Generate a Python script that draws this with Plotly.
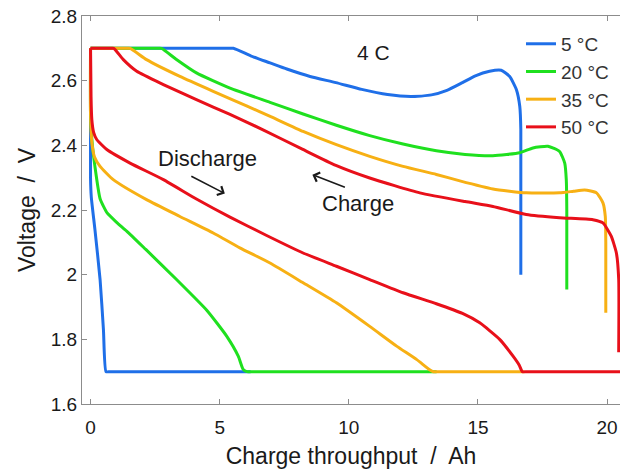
import plotly.graph_objects as go

# ---------------- data ----------------
temps = ["5 °C", "20 °C", "35 °C", "50 °C"]
colors = ["#1f6fe8", "#1fe01f", "#f7b014", "#e8101a"]

# discharge curves (lower branch)
dis5_x = [0, 0, 0.03, 0.17, 0.37, 0.5, 0.6, 0.75, 3.0, 6.2]
dis5_v = [2.70, 2.30, 2.24, 2.14, 1.985, 1.83, 1.70, 1.70, 1.70, 1.70]
dis20_x = [0, 0, 0.05, 0.17, 0.37, 0.65, 1.01, 1.4, 2.14, 3.33, 4.5, 5.27, 5.72, 5.91, 6.05, 6.25, 9.0, 13.4]
dis20_v = [2.70, 2.50, 2.42, 2.335, 2.235, 2.19, 2.162, 2.135, 2.078, 1.985, 1.89, 1.81, 1.748, 1.707, 1.70, 1.70, 1.70, 1.70]
dis35_x = [0, 0, 0.05, 0.15, 0.37, 0.88, 2.17, 3.46, 4.75, 5.78, 6.95, 8.23, 9.52, 10.81, 11.85, 12.62, 13.13, 13.28, 13.45, 15.0, 16.8]
dis35_v = [2.70, 2.50, 2.41, 2.365, 2.335, 2.294, 2.232, 2.18, 2.129, 2.083, 2.036, 1.975, 1.913, 1.84, 1.779, 1.738, 1.706, 1.70, 1.70, 1.70, 1.70]
dis50_x = [0, 0.02, 0.05, 0.12, 0.24, 0.63, 1.53, 2.82, 4.1, 5.4, 6.8, 8.23, 9.52, 10.81, 12.1, 13.39, 14.4, 15.07, 15.84, 16.36, 16.6, 16.72, 16.9, 18.5, 20.6]
dis50_v = [2.70, 2.55, 2.48, 2.44, 2.418, 2.387, 2.345, 2.294, 2.234, 2.178, 2.122, 2.067, 2.026, 1.985, 1.944, 1.91, 1.88, 1.851, 1.80, 1.748, 1.72, 1.70, 1.70, 1.70, 1.70]

# charge curves (upper branch)
chg5_x = [0, 0.3, 5.3, 5.53, 6.2, 6.95, 7.6, 8.5, 9.5, 10.5, 11.5, 12.4, 13.2, 13.8, 14.4, 14.9, 15.45, 15.9, 16.23, 16.49, 16.62, 16.66, 16.66]
chg5_v = [2.70, 2.70, 2.70, 2.70, 2.677, 2.655, 2.636, 2.613, 2.594, 2.573, 2.557, 2.551, 2.556, 2.57, 2.594, 2.615, 2.629, 2.632, 2.613, 2.572, 2.52, 2.45, 2.0]
chg20_x = [0, 0.3, 2.55, 2.75, 3.3, 4.1, 5.4, 6.95, 8.23, 9.52, 10.81, 12.1, 13.39, 14.5, 15.58, 16.62, 17.13, 17.71, 18.16, 18.36, 18.42, 18.44, 18.44]
chg20_v = [2.70, 2.70, 2.70, 2.70, 2.667, 2.624, 2.577, 2.533, 2.497, 2.462, 2.43, 2.404, 2.383, 2.372, 2.368, 2.377, 2.392, 2.397, 2.381, 2.345, 2.294, 2.2, 1.954]
chg35_x = [0, 0.3, 1.35, 1.53, 2.17, 3.46, 4.75, 6.04, 7.0, 8.23, 9.52, 10.81, 12.1, 13.39, 14.3, 15.58, 16.87, 18.16, 18.7, 19.13, 19.59, 19.84, 19.93, 19.95, 19.95]
chg35_v = [2.70, 2.70, 2.70, 2.70, 2.665, 2.613, 2.567, 2.522, 2.488, 2.443, 2.402, 2.366, 2.335, 2.31, 2.29, 2.265, 2.253, 2.253, 2.258, 2.262, 2.253, 2.222, 2.18, 2.1, 1.882]
chg50_x = [0, 0.3, 0.75, 0.9, 1.27, 1.79, 2.82, 4.1, 5.4, 6.68, 8.2, 9.5, 10.81, 12.75, 14.5, 15.58, 16.87, 18.16, 19.45, 19.84, 20.16, 20.36, 20.45, 20.45]
chg50_v = [2.70, 2.70, 2.70, 2.70, 2.665, 2.629, 2.588, 2.541, 2.496, 2.448, 2.388, 2.338, 2.299, 2.253, 2.226, 2.211, 2.186, 2.176, 2.17, 2.16, 2.119, 2.067, 1.985, 1.76]

x_ticks = [0, 5, 10, 15, 20]
y_ticks = [1.6, 1.8, 2.0, 2.2, 2.4, 2.6, 2.8]
y_ticktext = ["1.6", "1.8", "2", "2.2", "2.4", "2.6", "2.8"]

dis_x = [dis5_x, dis20_x, dis35_x, dis50_x]
dis_v = [dis5_v, dis20_v, dis35_v, dis50_v]
chg_x = [chg5_x, chg20_x, chg35_x, chg50_x]
chg_v = [chg5_v, chg20_v, chg35_v, chg50_v]

FONT = "Arial, Liberation Sans, sans-serif"
TXT = "#1a1a1a"
AX = "#8c8c8c"

fig = go.Figure()
for name, col, dx, dv, cx, cv in zip(temps, colors, dis_x, dis_v, chg_x, chg_v):
    fig.add_trace(go.Scatter(
        x=dx + [None] + cx, y=dv + [None] + cv, mode="lines", name=name,
        line=dict(color=col, width=3, shape="spline", smoothing=0.5),
        connectgaps=False))

fig.add_annotation(x=10.94, y=2.686, text="4 C", showarrow=False,
                   font=dict(family=FONT, size=21, color=TXT))
fig.add_annotation(x=4.53, y=2.358, text="Discharge", showarrow=False,
                   font=dict(family=FONT, size=22, color=TXT))
fig.add_annotation(x=10.36, y=2.22, text="Charge", showarrow=False,
                   font=dict(family=FONT, size=22, color=TXT))
fig.add_annotation(x=5.2, y=2.251, ax=-35, ay=-18, text="", showarrow=True,
                   arrowhead=4, arrowsize=1.2, arrowwidth=1.6, arrowcolor=TXT)
fig.add_annotation(x=8.59, y=2.309, ax=34, ay=13, text="", showarrow=True,
                   arrowhead=4, arrowsize=1.2, arrowwidth=1.6, arrowcolor=TXT)

fig.update_layout(
    width=620, height=472,
    margin=dict(l=82, r=0, t=16, b=68),
    paper_bgcolor="white", plot_bgcolor="white",
    font=dict(family=FONT, color=TXT),
    legend=dict(x=0.816, y=0.977, xanchor="left", yanchor="top",
                bgcolor="rgba(0,0,0,0)", font=dict(family=FONT, size=19, color="#333"),
                tracegroupgap=0),
    xaxis=dict(range=[-0.33, 20.5], tickvals=x_ticks, ticks="inside", ticklen=5,
               tickcolor=AX, showline=True, linecolor=AX, linewidth=1.3,
               mirror="allticks", showgrid=False, zeroline=False,
               ticklabelstandoff=6,
               tickfont=dict(family=FONT, size=19, color=TXT),
               title=dict(text="Charge throughput  /  Ah", standoff=10,
                          font=dict(family=FONT, size=23, color=TXT))),
    yaxis=dict(range=[1.6, 2.8], tickvals=y_ticks, ticktext=y_ticktext,
               ticks="inside", ticklen=5, tickcolor=AX, showline=True,
               linecolor=AX, linewidth=1.3, showgrid=False, zeroline=False,
               tickfont=dict(family=FONT, size=19, color=TXT),
               title=dict(text="Voltage  /  V", standoff=8,
                          font=dict(family=FONT, size=23, color=TXT))),
)

fig.write_html("out.html")
